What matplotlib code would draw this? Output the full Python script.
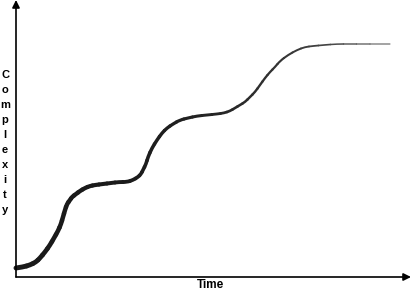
import numpy as np
import matplotlib
matplotlib.use('Agg')
import matplotlib.pyplot as plt
from matplotlib.collections import PathCollection
from matplotlib.path import Path

# curve (time, complexity in arbitrary units)
time = [0, 7, 14, 20, 24, 29, 34, 38, 42, 45, 47, 49, 51, 54, 56, 60, 64, 69, 74, 79,
        87, 95, 103, 111, 117, 122, 125, 127, 130, 132, 136, 141, 146, 151, 157, 164,
        172, 181, 191, 201, 208, 214, 219, 224, 229, 234, 239, 244, 249, 254, 259, 264,
        272, 281, 289, 297, 308, 321, 334, 347, 361, 374]
complexity = [9, 10, 12, 15, 19, 25, 32, 39, 46, 53, 60, 67, 73, 77, 80, 83, 86, 89, 91, 92,
              93, 94, 95, 95, 97, 100, 103, 107, 113, 120, 129, 137, 144, 149, 153, 157,
              159, 161, 162, 163, 164, 166, 169, 172, 175, 180, 185, 192, 199, 205, 210, 216,
              222, 227, 230, 231, 232, 233, 233, 233, 233, 233]

y_letters = list("Complexity")
x_title = "Time"

fig = plt.figure(figsize=(4.11, 2.92), dpi=100)
ax = fig.add_axes([0, 0, 1, 1])
ax.set_xlim(-16, 395)
ax.set_ylim(-15, 277)
ax.axis('off')

# axes with arrow heads
arrow = dict(arrowstyle='-|>', lw=1.2, color='black', mutation_scale=11, shrinkA=0, shrinkB=0)
ax.annotate('', xy=(0, 277), xytext=(0, 0), arrowprops=arrow, annotation_clip=False)
ax.annotate('', xy=(395, 0), xytext=(0, 0), arrowprops=arrow, annotation_clip=False)

# curve getting thinner with time, drawn as short quadratic pieces so it stays smooth
p = np.column_stack([time, complexity]).astype(float)
mid = 0.5 * (p[:-1] + p[1:])
paths, widths, colors = [], [], []
n = len(p)
for i in range(1, n - 1):
    a = p[0] if i == 1 else mid[i - 1]
    b = p[-1] if i == n - 2 else mid[i]
    paths.append(Path([a, p[i], b], [Path.MOVETO, Path.CURVE3, Path.CURVE3]))
    f = p[i, 0] / p[:, 0].max()
    widths.append(3.6 - 2.9 * f)
    colors.append((0.1 + 0.3 * f ** 3,) * 3)
pc = PathCollection(paths, facecolors='none', edgecolors=colors, linewidths=widths,
                    transform=ax.transData, capstyle='round', joinstyle='round')
ax.add_collection(pc)

font = dict(family=['Liberation Sans', 'DejaVu Sans'], fontweight='bold', fontsize=8)
for i, ch in enumerate(y_letters):
    fig.text(5 / 411, 1 - (75 + 15 * i) / 292, ch, ha='center', va='center', **font)
fig.text(210 / 411, 1 / 292, x_title, ha='center', va='bottom',
         **dict(font, fontsize=8.5))

fig.savefig('out.png', dpi=100)
